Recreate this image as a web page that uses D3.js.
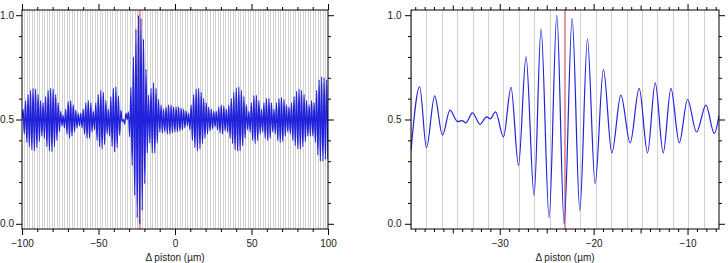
<!DOCTYPE html>
<html><head><meta charset="utf-8">
<script src="https://cdn.jsdelivr.net/npm/d3@7"></script>
<style>
body{margin:0;background:#fff}
svg{display:block}
text{font-family:"Liberation Sans",Arial,Helvetica,sans-serif}
</style>
</head><body>
<svg id="c" width="728" height="263"></svg>
<script>
// ---------- data ----------
const wavelength = 1.64;          // fringe period (µm)
const zeroPiston = -23.05;        // position of red marker line (µm)
const leftDomain = [-100, 100];
const rightDomain = [-39.45, -6.65];
const yDomain = [-0.025, 1.025];

const leftXMajor = [-100, -50, 0, 50, 100];
const leftXMinor = [-90, -80, -70, -60, -40, -30, -20, -10, 10, 20, 30, 40, 60, 70, 80, 90];
const rightXMajor = [-30, -20, -10];
const rightXMid = [-35, -25, -15];
const rightXMinor = [-39, -38, -37, -36, -34, -33, -32, -31, -29, -28, -27, -26, -24, -23, -22, -21, -19, -18, -17, -16, -14, -13, -12, -11, -9, -8, -7];
const yMajor = [0, 0.5, 1.0];
const yMinor = [0.1, 0.2, 0.3, 0.4, 0.6, 0.7, 0.8, 0.9];

// left panel: fringe maxima / minima (one per fringe, -100..100)
const leftFirstPeak = -99.31;
const leftPeaks = [
  0.55, 0.59, 0.62, 0.64, 0.65, 0.645, 0.62, 0.59, 0.58, 0.61,
  0.64, 0.65, 0.645, 0.62, 0.58, 0.54, 0.52, 0.55, 0.585, 0.59,
  0.57, 0.545, 0.53, 0.53, 0.55, 0.58, 0.59, 0.58, 0.54, 0.58,
  0.62, 0.64, 0.63, 0.59, 0.55, 0.61, 0.65, 0.657, 0.613, 0.545,
  0.50, 0.53, 0.537, 0.654, 0.80, 0.933, 1.0, 0.985, 0.886, 0.74,
  0.617, 0.649, 0.676, 0.649, 0.596, 0.569, 0.55, 0.56, 0.57, 0.57,
  0.56, 0.56, 0.56, 0.555, 0.55, 0.54, 0.53, 0.57, 0.62, 0.645,
  0.65, 0.63, 0.60, 0.58, 0.56, 0.55, 0.54, 0.54, 0.56, 0.57,
  0.565, 0.55, 0.57, 0.60, 0.63, 0.65, 0.655, 0.64, 0.61, 0.57,
  0.54, 0.58, 0.615, 0.615, 0.59, 0.55, 0.58, 0.60, 0.60, 0.58,
  0.55, 0.58, 0.60, 0.605, 0.595, 0.57, 0.56, 0.58, 0.61, 0.635,
  0.645, 0.64, 0.62, 0.59, 0.57, 0.59, 0.58, 0.64, 0.69, 0.705,
  0.70, 0.69
];
const leftTroughs = [
  0.43, 0.39, 0.37, 0.355, 0.35, 0.365, 0.395, 0.42, 0.41, 0.37,
  0.35, 0.346, 0.37, 0.40, 0.44, 0.47, 0.46, 0.43, 0.41, 0.42,
  0.44, 0.46, 0.47, 0.46, 0.43, 0.41, 0.41, 0.44, 0.45, 0.40,
  0.37, 0.36, 0.38, 0.43, 0.42, 0.37, 0.344, 0.365, 0.425, 0.49,
  0.477, 0.50, 0.417, 0.28, 0.136, 0.029, 0.0, 0.064, 0.192, 0.34,
  0.388, 0.34, 0.34, 0.388, 0.44, 0.433, 0.44, 0.43, 0.43, 0.435,
  0.44, 0.44, 0.445, 0.45, 0.46, 0.47, 0.45, 0.40, 0.365, 0.35,
  0.36, 0.385, 0.41, 0.43, 0.445, 0.455, 0.465, 0.45, 0.435, 0.43,
  0.445, 0.44, 0.41, 0.385, 0.355, 0.35, 0.35, 0.375, 0.41, 0.45,
  0.44, 0.40, 0.385, 0.40, 0.43, 0.44, 0.41, 0.40, 0.41, 0.44,
  0.43, 0.40, 0.39, 0.395, 0.42, 0.44, 0.43, 0.40, 0.375, 0.36,
  0.358, 0.37, 0.395, 0.42, 0.42, 0.42, 0.39, 0.33, 0.30, 0.30,
  0.31, 0.31
];

// right panel: extrema of the zoomed curve
const rightX = [-39.45, -38.53, -37.8, -36.93, -36.1, -35.3, -34.5, -34.0, -33.6, -32.9, -32.1, -31.4, -31.0, -30.45,
  -29.6, -28.8, -28.0, -27.2, -26.34, -25.6, -24.74, -23.92, -23.14, -22.29, -21.47, -20.66, -19.84, -18.96,
  -18.06, -17.1, -16.11, -15.15, -14.26, -13.44, -12.59, -11.77, -10.88, -10.0, -9.04, -8.04, -7.15, -6.65];
const rightY = [0.35, 0.657, 0.365, 0.613, 0.425, 0.545, 0.49, 0.495, 0.484, 0.532, 0.477, 0.513, 0.503, 0.537,
  0.417, 0.654, 0.28, 0.80, 0.136, 0.933, 0.029, 1.0, 0.0, 0.985, 0.064, 0.886, 0.192, 0.74,
  0.34, 0.617, 0.388, 0.649, 0.34, 0.676, 0.34, 0.649, 0.388, 0.596, 0.44, 0.569, 0.433, 0.52];

// ---------- drawing ----------
const svg = d3.select("#c");
const yTop = 10, yBottom = 229;
const BLUE = "#2222dd", GRID = "#d2d2d2", RED = "#e39b95", INK = "#222";

function panel(id, xr, domain, pts, opts) {
  const x = d3.scaleLinear().domain(domain).range(xr);
  const y = d3.scaleLinear().domain(yDomain).range([yBottom, yTop]);
  const g = svg.append("g");
  g.append("clipPath").attr("id", id).append("rect")
    .attr("x", xr[0]).attr("y", yTop).attr("width", xr[1] - xr[0]).attr("height", yBottom - yTop);
  const pg = g.append("g").attr("clip-path", `url(#${id})`);
  // fringe grid lines
  const kMin = Math.ceil((domain[0] - zeroPiston) / wavelength - 1e-6);
  const kMax = Math.floor((domain[1] - zeroPiston) / wavelength + 1e-6);
  const grid = d3.range(kMin, kMax + 1).map(k => zeroPiston + k * wavelength);
  pg.selectAll("line.grid").data(grid).join("line")
    .attr("x1", d => Math.round(x(d)) + 0.5).attr("x2", d => Math.round(x(d)) + 0.5)
    .attr("y1", yTop).attr("y2", yBottom)
    .attr("stroke", GRID).attr("stroke-width", 1);
  // red marker
  pg.append("line")
    .attr("x1", x(zeroPiston)).attr("x2", x(zeroPiston))
    .attr("y1", yTop).attr("y2", yBottom)
    .attr("stroke", RED).attr("stroke-width", 2);
  // curve
  const line = d3.line().x(d => x(d[0])).y(d => y(d[1])).curve(d3.curveMonotoneX);
  pg.append("path").attr("d", line(pts)).attr("fill", "none")
    .attr("stroke", BLUE).attr("stroke-width", opts.lw);
  // axes
  const fmtX = d3.format("d");
  const mk = (axis, vals, size, fmt, pad) => axis.tickValues(vals).tickSize(size).tickSizeOuter(0)
    .tickPadding(pad).tickFormat(fmt ? fmt : () => "");
  const xAxes = [[opts.xMajor, 6, fmtX], [opts.xMinor, 3, null]];
  if (opts.xMid) xAxes.push([opts.xMid, 4.5, null]);
  xAxes.forEach(([vals, size, fmt]) => {
    g.append("g").attr("transform", `translate(0,${yBottom})`).call(mk(d3.axisBottom(x), vals, size, fmt, 5));
    g.append("g").attr("transform", `translate(0,${yTop})`).call(mk(d3.axisTop(x), vals, size, null, 3));
  });
  [[yMajor, 6, d3.format(".1f")], [yMinor, 3, null]].forEach(([vals, size, fmt]) => {
    g.append("g").attr("transform", `translate(${xr[0]},0)`).call(mk(d3.axisLeft(y), vals, size, fmt, opts.ypad));
    g.append("g").attr("transform", `translate(${xr[1]},0)`).call(mk(d3.axisRight(y), vals, size, null, 3));
  });
  g.selectAll(".domain").remove();
  g.selectAll(".tick line").attr("stroke", "#000");
  g.selectAll(".tick text").attr("font-size", 10).attr("fill", INK)
    .attr("font-family", '"Liberation Sans", Arial, sans-serif');
  // frame
  g.append("rect").attr("x", xr[0]).attr("y", yTop).attr("width", xr[1] - xr[0]).attr("height", yBottom - yTop)
    .attr("fill", "none").attr("stroke", "#000").attr("stroke-width", 1);
  // title
  g.append("text").attr("x", (xr[0] + xr[1]) / 2).attr("y", 261).attr("text-anchor", "middle")
    .attr("font-size", 10).attr("fill", INK).text("Δ piston (µm)");
}

// left curve points: alternate maxima and minima each half fringe
const leftPts = [[-100, 0.5]];
leftPeaks.forEach((p, i) => {
  const xp = leftFirstPeak + i * wavelength;
  leftPts.push([xp, p]);
  leftPts.push([xp + wavelength / 2, leftTroughs[i]]);
});
const rightPts = rightX.map((v, i) => [v, rightY[i]]);

panel("clipL", [22, 328], leftDomain, leftPts, {xMajor: leftXMajor, xMinor: leftXMinor, lw: 1.3, ypad: 2});
panel("clipR", [411, 719], rightDomain, rightPts, {xMajor: rightXMajor, xMinor: rightXMinor, xMid: rightXMid, lw: 1.2, ypad: 3.5});
</script>
</body></html>
